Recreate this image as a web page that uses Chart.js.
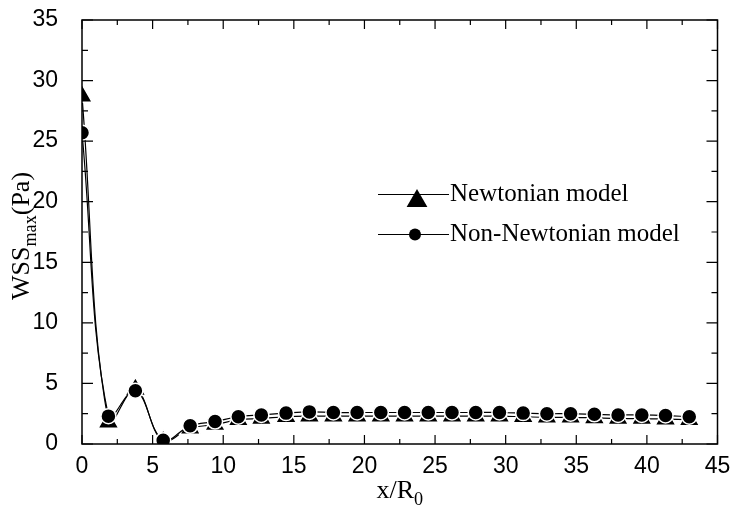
<!DOCTYPE html>
<html>
<head>
<meta charset="utf-8">
<title>WSS max along x/R0</title>
<script src="https://cdn.jsdelivr.net/npm/chart.js@4.4.1/dist/chart.umd.min.js"></script>
<style>
    body { margin: 0; background: #fff; }
    canvas { display: block; }
</style>
</head>
<body>
<canvas id="wss-chart" width="731" height="511"></canvas>
<script>
/* Values */
const positions = [0, 1.87, 3.78, 5.75, 7.66, 9.42, 11.07, 12.7, 14.45, 16.1, 17.8, 19.48, 21.16, 22.84, 24.52, 26.2, 27.88, 29.56, 31.24, 32.92, 34.6, 36.28, 37.96, 39.64, 41.32, 43.0]
const newtonian = [28.7, 1.8, 4.5, 0.2, 1.3, 1.6, 2.0, 2.1, 2.25, 2.3, 2.3, 2.3, 2.3, 2.3, 2.3, 2.3, 2.3, 2.3, 2.25, 2.2, 2.2, 2.15, 2.1, 2.1, 2.05, 2.0]
const nonNewtonian = [25.7, 2.3, 4.4, 0.3, 1.5, 1.85, 2.25, 2.4, 2.55, 2.65, 2.6, 2.6, 2.6, 2.6, 2.6, 2.6, 2.6, 2.6, 2.55, 2.5, 2.5, 2.45, 2.4, 2.4, 2.35, 2.25]
const seriesNames = ["Newtonian model", "Non-Newtonian model"]
const xTicks = [0, 5, 10, 15, 20, 25, 30, 35, 40, 45]
const yTicks = [0, 5, 10, 15, 20, 25, 30, 35]

const serif = "'Liberation Serif', 'Times New Roman', serif"
const sans = "'Liberation Sans', Arial, sans-serif"

const toPoints = (values) => positions.map((x, i) => ({ x: x, y: values[i] }))

/* text with subscript parts, drawn left to right from x */
const partsWidth = (ctx, parts, size) => {
    let w = 0
    for (const p of parts) {
        ctx.font = `${p.sub ? size * 0.7 : size}px ${serif}`
        w += ctx.measureText(p.text).width
    }
    return w
}

const drawParts = (ctx, parts, x, y, size) => {
    ctx.textAlign = "left"
    ctx.textBaseline = "alphabetic"
    for (const p of parts) {
        ctx.font = `${p.sub ? size * 0.7 : size}px ${serif}`
        ctx.fillText(p.text, x, p.sub ? y + size * 0.25 : y)
        x += ctx.measureText(p.text).width
    }
}

const drawTriangle = (ctx, x, y, r) => {
    ctx.beginPath()
    ctx.moveTo(x, y - r)
    ctx.lineTo(x + 0.866 * r, y + 0.5 * r)
    ctx.lineTo(x - 0.866 * r, y + 0.5 * r)
    ctx.closePath()
    ctx.fill()
}

/* Frame, inward ticks, axis titles and the legend */
const decorations = {
    id: "decorations",
    afterDraw(chart) {
        const { ctx, chartArea: area } = chart
        const xs = chart.scales.x
        const ys = chart.scales.y

        ctx.save()
        ctx.strokeStyle = "#000"
        ctx.fillStyle = "#000"
        ctx.lineWidth = 1.5
        ctx.strokeRect(area.left, area.top, area.right - area.left, area.bottom - area.top)

        ctx.lineWidth = 1.2
        ctx.beginPath()
        for (let i = 0; i < xTicks.length; i++) {
            const marks = [[xTicks[i], 9]]
            if (i < xTicks.length - 1) marks.push([(xTicks[i] + xTicks[i + 1]) / 2, 5])
            for (const [v, len] of marks) {
                const px = xs.getPixelForValue(v)
                ctx.moveTo(px, area.bottom); ctx.lineTo(px, area.bottom - len)
                ctx.moveTo(px, area.top); ctx.lineTo(px, area.top + len)
            }
        }
        for (let i = 0; i < yTicks.length; i++) {
            const marks = [[yTicks[i], 11]]
            if (i < yTicks.length - 1) marks.push([(yTicks[i] + yTicks[i + 1]) / 2, 6])
            for (const [v, len] of marks) {
                const py = ys.getPixelForValue(v)
                ctx.moveTo(area.left, py); ctx.lineTo(area.left + len, py)
                ctx.moveTo(area.right, py); ctx.lineTo(area.right - len, py)
            }
        }
        ctx.stroke()

        /* axis titles */
        const size = 26
        const xTitle = [{ text: "x/R" }, { text: "0", sub: true }]
        const xw = partsWidth(ctx, xTitle, size)
        drawParts(ctx, xTitle, (area.left + area.right) / 2 - xw / 2, 498, size)

        const yTitle = [{ text: "WSS" }, { text: "max", sub: true }, { text: "(Pa)" }]
        const yw = partsWidth(ctx, yTitle, size)
        ctx.save()
        ctx.translate(29, 236)
        ctx.rotate(-Math.PI / 2)
        drawParts(ctx, yTitle, -yw / 2, 0, size)
        ctx.restore()

        /* legend */
        const rows = [{ y: 194.5, label: seriesNames[0] }, { y: 234.5, label: seriesNames[1] }]
        ctx.lineWidth = 1
        for (const row of rows) {
            ctx.beginPath()
            ctx.moveTo(378, row.y); ctx.lineTo(449, row.y)
            ctx.stroke()
        }
        drawTriangle(ctx, 417, 201, 12)
        ctx.beginPath()
        ctx.arc(415, 234.5, 6, 0, Math.PI * 2)
        ctx.fill()

        ctx.font = `25px ${serif}`
        ctx.textAlign = "left"
        ctx.textBaseline = "middle"
        for (const row of rows) ctx.fillText(row.label, 450, row.y)
        ctx.restore()
    }
}

const config = {
    type: "line",
    data: {
        datasets: [
            {
                label: seriesNames[0],
                data: toPoints(newtonian),
                borderColor: "#000",
                borderWidth: 1.2,
                backgroundColor: "#000",
                pointStyle: "triangle",
                pointRadius: 12,
                pointBorderColor: "#fff",
                pointBorderWidth: 1.5,
                pointBackgroundColor: "#000",
                tension: 0.4,
                clip: 0,
                order: 2
            },
            {
                label: seriesNames[1],
                data: toPoints(nonNewtonian),
                borderColor: "#000",
                borderWidth: 1.2,
                backgroundColor: "#000",
                pointStyle: "circle",
                pointRadius: 7.5,
                pointBorderColor: "#fff",
                pointBorderWidth: 1.5,
                pointBackgroundColor: "#000",
                tension: 0.4,
                clip: 0,
                order: 1
            }
        ]
    },
    options: {
        responsive: false,
        animation: false,
        layout: { padding: { left: 0, right: 11, top: 20, bottom: 0 } },
        plugins: { legend: { display: false }, tooltip: { enabled: false } },
        scales: {
            x: {
                type: "linear",
                min: 0,
                max: 45,
                afterFit: (scale) => {
                    scale.height = 67
                    scale.paddingLeft = 0
                    scale.paddingRight = 0
                },
                afterBuildTicks: (scale) => { scale.ticks = xTicks.map(v => ({ value: v })) },
                grid: { display: false, drawTicks: false },
                border: { display: false },
                ticks: { color: "#000", padding: 9, maxRotation: 0, font: { family: sans, size: 23 } }
            },
            y: {
                min: 0,
                max: 35,
                afterFit: (scale) => {
                    scale.width = 82
                    scale.paddingTop = 0
                    scale.paddingBottom = 0
                },
                afterBuildTicks: (scale) => { scale.ticks = yTicks.map(v => ({ value: v })) },
                grid: { display: false, drawTicks: false },
                border: { display: false },
                ticks: { color: "#000", padding: 24, font: { family: sans, size: 23 } }
            }
        }
    },
    plugins: [decorations]
}

const wssChart = new Chart(document.querySelector("#wss-chart"), config)
</script>
</body>
</html>
